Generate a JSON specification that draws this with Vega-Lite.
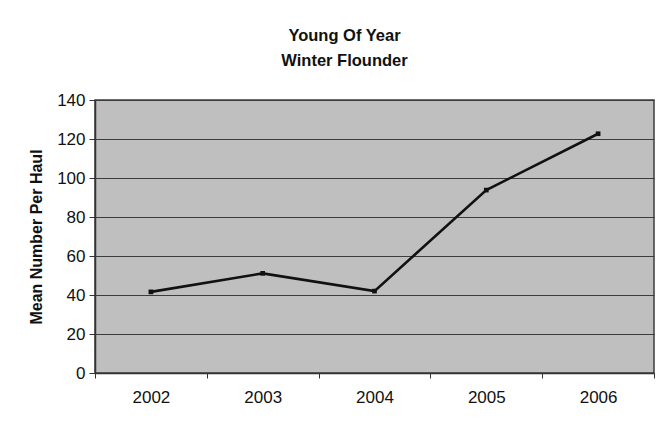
{
  "$schema": "https://vega.github.io/schema/vega-lite/v6.json",
  "autosize": {"type": "none"},
  "width": 559,
  "height": 273,
  "padding": {"left": 95, "top": 100, "right": 5, "bottom": 58},
  "background": "white",
  "title": {
    "text": ["Young Of Year", "Winter Flounder"],
    "font": "Liberation Sans",
    "fontSize": 16.5,
    "fontWeight": "bold",
    "color": "#111111",
    "anchor": "middle",
    "dx": -30,
    "offset": 22,
    "lineHeight": 25
  },
  "data": {
    "values": [
      {"year": "2002", "mean": 41.6},
      {"year": "2003", "mean": 51.1},
      {"year": "2004", "mean": 42.0},
      {"year": "2005", "mean": 93.8},
      {"year": "2006", "mean": 122.7}
    ]
  },
  "mark": {
    "type": "line",
    "color": "#111111",
    "strokeWidth": 2.6,
    "point": {"shape": "square", "size": 22, "filled": true, "color": "#111111"}
  },
  "encoding": {
    "x": {
      "field": "year",
      "type": "ordinal",
      "scale": {"type": "band", "paddingInner": 0, "paddingOuter": 0},
      "axis": {
        "title": null,
        "labelAngle": 0,
        "tickBand": "extent",
        "grid": false,
        "domainColor": "#333333",
        "domainWidth": 1.5,
        "tickColor": "#333333",
        "tickSize": 5,
        "labelPadding": 11,
        "labelFont": "Liberation Sans",
        "labelFontSize": 17,
        "labelColor": "#111111"
      }
    },
    "y": {
      "field": "mean",
      "type": "quantitative",
      "scale": {"domain": [0, 140], "nice": false},
      "axis": {
        "title": "Mean Number Per Haul",
        "titleFont": "Liberation Sans",
        "titleFontSize": 16,
        "titleFontWeight": "bold",
        "titleColor": "#111111",
        "titlePadding": 12,
        "values": [0, 20, 40, 60, 80, 100, 120, 140],
        "grid": true,
        "gridColor": "#3c3c3c",
        "gridWidth": 1.2,
        "gridOpacity": 1,
        "domainColor": "#333333",
        "domainWidth": 1.5,
        "tickColor": "#333333",
        "tickSize": 6,
        "labelPadding": 4,
        "labelFont": "Liberation Sans",
        "labelFontSize": 17,
        "labelColor": "#111111"
      }
    }
  },
  "config": {
    "view": {"fill": "#bfbfbf", "stroke": "#3c3c3c", "strokeWidth": 1.5}
  }
}
